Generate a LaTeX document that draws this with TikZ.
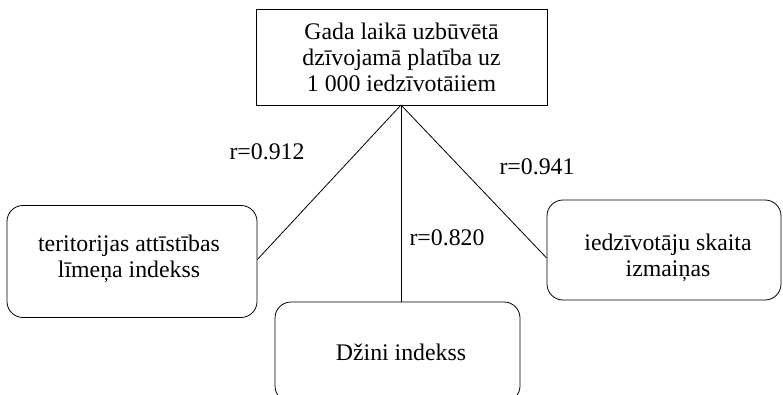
\documentclass[tikz,border=0pt]{standalone}
\usepackage{fontspec}
\setmainfont{Liberation Serif}
\begin{document}
\begin{tikzpicture}[x=1pt,y=1pt,
  every node/.style={font=\fontsize{23.8}{26}\selectfont},
  topbox/.style={draw, line width=0.8pt, minimum width=291pt, minimum height=96pt, align=center, inner sep=0pt},
  roundbox/.style={draw, line width=0.8pt, rounded corners=16pt, align=center, inner sep=0pt},
  boxtext/.style={align=center, inner sep=0pt},
  link/.style={draw, line width=0.8pt},
  rlabel/.style={inner sep=0pt}]
\useasboundingbox (0,0) rectangle (783,-395);
\clip (0,0) rectangle (783,-395);
% main indicator
\node[topbox] (top) at (401.5,-57) {Gada laikā uzbūvētā\\dzīvojamā platība uz\\1 000 iedzīvotāiiem};
% factor boxes
\node[roundbox, minimum width=250pt, minimum height=112pt] (left) at (132,-261.5) {};
\node[boxtext] (lefttext) at (129,-259) {teritorijas attīstības\\līmeņa indekss};
\node[roundbox, minimum width=245pt, minimum height=100pt] (bottom) at (397.5,-352) {};
\node[boxtext] (bottomtext) at (401,-352) {Džini indekss};
\node[roundbox, minimum width=234pt, minimum height=100pt] (right) at (664,-250) {};
\node[boxtext] (righttext) at (668,-258) {iedzīvotāju skaita\\izmaiņas};
% correlation links
\coordinate (apex) at (401,-105);
\draw[link] (apex) -- ([yshift=2pt]left.east);
\draw[link] (apex) -- (bottom.north -| apex);
\draw[link] (apex) -- ([yshift=-8pt]right.west);
% coefficients
\node[rlabel] (r1) at (267,-152) {r=0.912};
\node[rlabel] (r2) at (537,-167) {r=0.941};
\node[rlabel] (r3) at (447,-238) {r=0.820};
\end{tikzpicture}
\end{document}
